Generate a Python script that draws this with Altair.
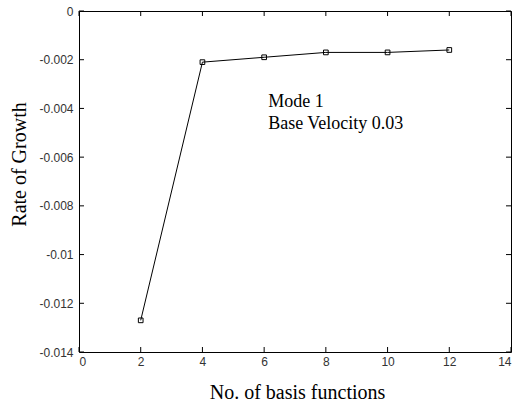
import altair as alt
import pandas as pd

# Convergence of the growth rate with the number of basis functions
basis_functions = [2, 4, 6, 8, 10, 12]
growth_rate = [-0.0127, -0.0021, -0.0019, -0.0017, -0.0017, -0.0016]

x_ticks = [0, 2, 4, 6, 8, 10, 12, 14]
y_ticks = [0, -0.002, -0.004, -0.006, -0.008, -0.01, -0.012, -0.014]

note_lines = ["Mode 1", "Base Velocity 0.03"]
note_x = [6.13, 6.13]
note_y = [-0.00394, -0.00484]

W, H = 432, 341
TICK = 5

data = pd.DataFrame({"n": basis_functions, "rate": growth_rate})
xt = pd.DataFrame({"t": x_ticks})
yt = pd.DataFrame({"t": y_ticks})
notes = pd.DataFrame({"x": note_x, "y": note_y, "label": note_lines})

x_scale = alt.Scale(domain=[0, 14], nice=False, zero=False)
y_scale = alt.Scale(domain=[-0.014, 0], nice=False, zero=False)

x_axis = alt.Axis(
    values=x_ticks, ticks=False, domain=False, grid=False,
    labelFont="Liberation Sans", labelFontSize=12, labelColor="#333333",
    labelPadding=4, title="No. of basis functions",
    titleFont="Liberation Serif", titleFontSize=20, titleFontWeight="normal",
    titleColor="black", titleBaseline="alphabetic", titleY=46, titleX=218,
    titleAlign="center",
)
y_axis = alt.Axis(
    values=y_ticks, ticks=False, domain=False, grid=False,
    labelFont="Liberation Sans", labelFontSize=12, labelColor="#333333",
    labelPadding=6, labelExpr="'' + datum.value", title="Rate of Growth",
    titleFont="Liberation Serif", titleFontSize=20, titleFontWeight="normal",
    titleColor="black", titleAngle=-90, titleBaseline="alphabetic",
    titleX=-54, titleY=153, titleAlign="center",
)

line = alt.Chart(data).mark_line(color="black", strokeWidth=1).encode(
    x=alt.X("n:Q", scale=x_scale, axis=x_axis),
    y=alt.Y("rate:Q", scale=y_scale, axis=y_axis),
)
points = alt.Chart(data).mark_point(
    shape="square", size=22, filled=False, color="black", strokeWidth=1, opacity=1
).encode(
    x=alt.X("n:Q", scale=x_scale),
    y=alt.Y("rate:Q", scale=y_scale),
)

# Inward tick marks on all four sides of the frame
rule_style = dict(color="black", strokeWidth=1)
bottom_ticks = alt.Chart(xt).mark_rule(**rule_style).encode(
    x=alt.X("t:Q", scale=x_scale), y=alt.value(H), y2=alt.value(H - TICK))
top_ticks = alt.Chart(xt).mark_rule(**rule_style).encode(
    x=alt.X("t:Q", scale=x_scale), y=alt.value(0), y2=alt.value(TICK))
left_ticks = alt.Chart(yt).mark_rule(**rule_style).encode(
    y=alt.Y("t:Q", scale=y_scale), x=alt.value(0), x2=alt.value(TICK))
right_ticks = alt.Chart(yt).mark_rule(**rule_style).encode(
    y=alt.Y("t:Q", scale=y_scale), x=alt.value(W), x2=alt.value(W - TICK))

text = alt.Chart(notes).mark_text(
    align="left", baseline="alphabetic", font="Liberation Serif",
    fontSize=18, color="black",
).encode(
    x=alt.X("x:Q", scale=x_scale),
    y=alt.Y("y:Q", scale=y_scale),
    text="label:N",
)

chart = alt.layer(
    line, points, bottom_ticks, top_ticks, left_ticks, right_ticks, text
).properties(
    width=W, height=H,
    autosize=alt.AutoSizeParams(type="none"),
    padding={"left": 79, "top": 11, "right": 7, "bottom": 55},
    background="white",
).configure_view(stroke="black", strokeWidth=1)

chart.save("out.html", embed_options={"renderer": "svg", "actions": False})
